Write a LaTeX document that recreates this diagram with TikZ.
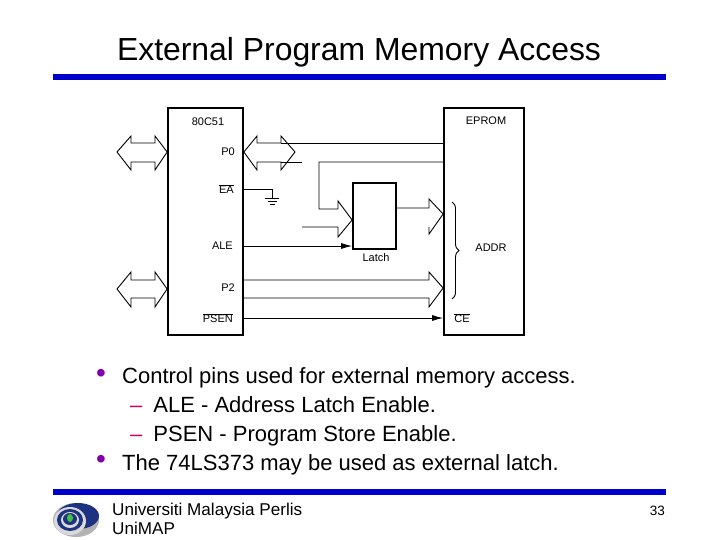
\documentclass[tikz,border=0pt]{standalone}
\usepackage{fontspec}
\setmainfont{Liberation Sans}
\usetikzlibrary{decorations.pathreplacing,arrows.meta}
\definecolor{barblue}{RGB}{0,0,204}
\definecolor{bulletpurple}{RGB}{128,0,170}
\definecolor{dashred}{RGB}{204,0,102}
\definecolor{logoblue}{RGB}{30,50,130}
\newcommand{\px}[1]{\fontsize{#1}{#1}\selectfont}

\begin{document}
\begin{tikzpicture}[x=1pt,y=-1pt,
    chip/.style={draw,line width=1.7pt,inner sep=0pt},
    wire/.style={line width=0.9pt},
    bus/.style={line width=0.9pt,line join=miter},
    pin/.style={inner sep=0pt,font=\px{11}},
    body/.style={inner sep=0pt,anchor=base west,font=\px{22}},
    dot/.style={inner sep=0pt,text=bulletpurple,font=\px{28}},
    tip/.style={-{Latex[length=11pt,width=6pt]}}]
\useasboundingbox[fill=white] (0,0) rectangle (720,540);
% heading
\node[inner sep=0pt,anchor=base,font=\px{31.9}] (title) at (359,61) {External Program Memory Access};
\fill[barblue] (53,74) rectangle (666,80);
% the two chips and the latch
\node[chip,minimum width=75pt,minimum height=227pt] (mcu) at (205.5,221.5) {};
\node[chip,minimum width=80pt,minimum height=227pt] (eprom) at (484,221.5) {};
\node[chip,minimum width=43pt,minimum height=66pt] (latch) at (374.5,216) {};
\node[pin] (mcuname) at (208,122) {80C51};
\node[pin,anchor=east] (pzero) at (235,152) {P0};
\node[pin,anchor=east] (ea) at (234,189) {$\overline{\mbox{EA}}$};
\node[pin,anchor=east] (ale) at (233,246) {ALE};
\node[pin,anchor=east] (ptwo) at (235,288) {P2};
\node[pin,anchor=east] (psen) at (233,318) {$\overline{\mbox{PSEN}}$};
\node[pin] (epromname) at (486,121) {EPROM};
\node[pin] (addr) at (491,248) {ADDR};
\node[pin] (ce) at (462,318) {$\overline{\mbox{CE}}$};
\node[pin] (latchname) at (376,258) {Latch};
% outer buses
\draw[bus] (mcu.west|-0,152) -- (155,170) -- (155,162) -- (131,162) -- (131,170) -- (117,152)
  -- (131,136) -- (131,143) -- (155,143) -- (155,136) -- cycle;
\draw[bus] (mcu.west|-0,289) -- (155,307) -- (155,298) -- (131,298) -- (131,307) -- (117,289)
  -- (131,272) -- (131,280) -- (155,280) -- (155,272) -- cycle;
% port 0 bus
\draw[bus] (mcu.east|-0,152) -- (257,136) -- (257,143) -- (281,143) -- (281,136) -- (295,152)
  -- (281,170) -- (281,162) -- (257,162) -- (257,170) -- cycle;
\draw[wire] (281,143) -- (eprom.west|-0,143);
\draw[wire] (281,162) -- (302,162);
\draw[wire] (eprom.west|-0,162) -- (319,162) -- (319,209) -- (338,209) -- (338,201)
  -- (latch.west|-0,220) -- (338,237) -- (338,227) -- (302,227);
% latch output
\draw[wire] (latch.east|-0,208) -- (429,208) -- (429,199) -- (eprom.west|-0,214) -- (429,234) -- (429,227);
% port 2 bus
\draw[wire] (mcu.east|-0,280) -- (429,280) -- (429,272) -- (eprom.west|-0,288) -- (429,307)
  -- (429,298) -- (mcu.east|-0,298);
% strobes
\draw[wire,tip] (mcu.east|-0,246) -- (latch.west|-0,246);
\draw[wire,tip] (mcu.east|-0,318) -- (eprom.west|-0,318);
% ground
\draw[wire] (mcu.east|-0,189) -- (272,189) -- (272,198);
\draw[wire] (265,198) -- (279,198);
\draw[wire] (268,201) -- (277,201);
\draw[wire] (270,204) -- (275,204);
% address brace
\draw[wire,decorate,decoration={brace,amplitude=7pt}] (452,202) -- (452,299);
% bullets
\node[dot] (bulletone) at (101,376) {•};
\node[dot] (bullettwo) at (101,462) {•};
\node[body] (lineone) at (122,383) {Control pins used for external memory access.};
\node[body] (linetwo) at (130,412) {\textcolor{dashred}{–}\hspace{11pt}ALE - Address Latch Enable.};
\node[body] (linethree) at (130,441) {\textcolor{dashred}{–}\hspace{11pt}PSEN - Program Store Enable.};
\node[body] (linefour) at (122,470) {The 74LS373 may be used as external latch.};
% footer
\fill[barblue] (53,489) rectangle (666,495);
\fill[gray!60] (76,520) ellipse (23 and 17);
\fill[logoblue] (78,516) ellipse (21 and 13);
\fill[gray!30] (70,521) ellipse (16 and 14);
\fill[logoblue] (70,520) ellipse (13 and 11);
\fill[gray!30] (70,520) ellipse (9 and 8);
\fill[logoblue] (70,519) ellipse (7 and 6);
\fill[green!50!gray] (70,518) ellipse (3 and 4);
\node[inner sep=0pt,anchor=base west,font=\px{17.1}] (uni) at (112,515) {Universiti Malaysia Perlis};
\node[inner sep=0pt,anchor=base west,font=\px{17.1}] (unimap) at (112,534) {UniMAP};
\node[inner sep=0pt,anchor=base east,font=\px{13.5}] (page) at (665,515) {33};
\end{tikzpicture}
\end{document}
